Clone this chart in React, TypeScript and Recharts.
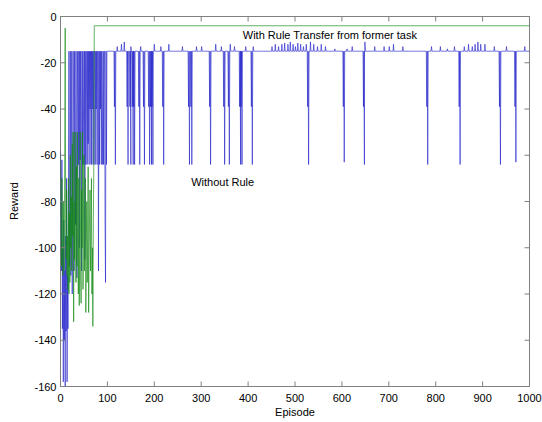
import { LineChart, Line, XAxis, YAxis, ReferenceArea, ReferenceDot, Customized } from "recharts";

// plot box in page pixels (matlab style figure)
const W = 542;
const H = 422;
const LEFT = 60.5;
const RIGHT = 529.5;
const TOP = 16.5;
const BOTTOM = 386.5;

const FONT = "'Liberation Sans', Arial, sans-serif";
const BOX = "#808080";

const xTicks = [0, 100, 200, 300, 400, 500, 600, 700, 800, 900, 1000];
const yTicks = [0, -20, -40, -60, -80, -100, -120, -140, -160];

// blue "Without Rule", one value per episode for episodes 0..100
const blueEarly = [
  -58, -85, -110, -62, -135, -100, -158, -88, -140, -110,
  -160, -95, -136, -70, -158, -112, -135, -64, -15, -108,
  -88, -15, -112, -64, -15, -120, -64, -15, -40, -110,
  -15, -64, -90, -15, -64, -113, -15, -40, -64, -15,
  -100, -15, -62, -15, -40, -110, -15, -64, -15, -40,
  -64, -15, -105, -15, -64, -40, -15, -64, -15, -55,
  -15, -64, -15, -40, -15, -64, -15, -64, -15, -40,
  -15, -64, -15, -15, -64, -15, -40, -15, -64, -15,
  -15, -110, -15, -64, -15, -40, -15, -64, -15, -39,
  -64, -15, -64, -15, -15, -89, -115, -15, -64, -15,
  -15,
];

// later dips below the -15 plateau: [episode, shallow, deep]
const blueDips: [number, number, number][] = [
  [115, -39, -64], [142, -39, -64], [148, -39, -64], [153, -39, -64],
  [156, -39, -64], [167, -39, -64], [177, -39, -64], [188, -39, -64],
  [192, -39, -64], [195, -39, -64], [218, -39, -64], [273, -39, -64],
  [278, -39, -64], [318, -39, -64], [348, -39, -64], [358, -39, -64],
  [382, -39, -64], [385, -39, -64], [407, -39, -64], [527, -39, -64],
  [603, -39, -63], [646, -39, -64], [781, -39, -64], [850, -39, -64],
  [936, -39, -64], [969, -39, -63],
];

// small bumps above the plateau: [episode, value]
const blueBumps: [number, number][] = [
  [121, -13], [130, -12], [136, -11], [150, -13], [171, -13], [200, -12],
  [214, -13], [231, -12], [260, -13], [290, -13], [301, -13], [331, -12],
  [343, -13], [362, -12], [371, -13], [395, -13], [411, -13], [451, -13],
  [458, -12], [465, -13], [472, -12], [478, -11.5], [485, -12], [490, -11],
  [496, -12], [501, -13], [506, -11.5], [512, -12], [518, -13], [524, -12],
  [533, -11], [540, -12], [548, -13], [556, -12], [565, -13], [585, -14],
  [611, -14], [622, -13], [649, -11], [670, -13], [690, -13], [701, -13],
  [710, -12], [730, -13], [791, -13], [810, -13], [825, -14], [840, -13],
  [861, -13], [870, -12], [878, -13], [884, -12], [890, -11], [896, -12],
  [905, -12], [925, -13], [951, -13], [990, -13],
];
const BLUE_PLATEAU = -15;

// green "With Rule Transfer", episodes 0..72, then flat
const greenEarly = [
  -60, -85, -108, -70, -95, -112, -80, -100, -110, -60,
  -5, -88, -105, -75, -112, -95, -118, -70, -120, -85,
  -115, -60, -100, -78, -110, -55, -95, -50, -132, -80,
  -105, -50, -90, -115, -65, -108, -50, -95, -120, -70,
  -125, -88, -50, -112, -124, -75, -100, -50, -118, -85,
  -60, -110, -92, -70, -128, -100, -80, -115, -95, -65,
  -128, -105, -85, -75, -110, -92, -70, -120, -100, -134,
  -90, -65, -4,
];
const GREEN_PLATEAU = -4;

type Pt = { x: number; y: number };

function buildBlue(): Pt[] {
  const pts: Pt[] = blueEarly.map((y, i) => ({ x: i, y }));
  const later: Pt[] = [];
  blueDips.forEach(([ep, a, b]) => {
    later.push({ x: ep - 1, y: BLUE_PLATEAU }, { x: ep, y: a }, { x: ep + 1, y: BLUE_PLATEAU }, { x: ep + 2, y: b }, { x: ep + 3, y: BLUE_PLATEAU });
  });
  blueBumps.forEach(([ep, v]) => {
    later.push({ x: ep - 1, y: BLUE_PLATEAU }, { x: ep, y: v }, { x: ep + 1, y: BLUE_PLATEAU });
  });
  later.sort((p, q) => p.x - q.x);
  return [...pts, ...later, { x: 1000, y: BLUE_PLATEAU }];
}

const blueData = buildBlue();
const greenData: Pt[] = [...greenEarly.map((y, i) => ({ x: i, y })), { x: 1000, y: GREEN_PLATEAU }];

const XTick = (props: any) => {
  const { x, payload } = props;
  return (
    <g>
      <line x1={x} x2={x} y1={BOTTOM} y2={BOTTOM - 5} stroke={BOX} />
      <line x1={x} x2={x} y1={TOP} y2={TOP + 5} stroke={BOX} />
      <text x={x} y={BOTTOM + 15} textAnchor="middle" fontSize={11} fontFamily={FONT} fill="#000">
        {payload.value}
      </text>
    </g>
  );
};

const YTick = (props: any) => {
  const { y, payload } = props;
  return (
    <g>
      <line x1={LEFT} x2={LEFT + 5} y1={y} y2={y} stroke={BOX} />
      <line x1={RIGHT} x2={RIGHT - 5} y1={y} y2={y} stroke={BOX} />
      <text x={LEFT - 4} y={y + 4} textAnchor="end" fontSize={11} fontFamily={FONT} fill="#000">
        {payload.value}
      </text>
    </g>
  );
};

const AxisTitles = () => (
  <g fontFamily={FONT} fontSize={11} fill="#000">
    <text x={295} y={416} textAnchor="middle">Episode</text>
    <text x={18} y={201} textAnchor="middle" transform="rotate(-90 18 201)">Reward</text>
  </g>
);

export default function App() {
  return (
    <div style={{ position: "fixed", left: 0, top: 0, width: W, height: H, background: "#fff" }}>
      <LineChart
        width={W}
        height={H}
        margin={{ top: TOP, right: W - RIGHT, bottom: 0, left: 0 }}
      >
        <XAxis
          dataKey="x"
          type="number"
          domain={[0, 1000]}
          ticks={xTicks}
          height={H - BOTTOM}
          axisLine={false}
          tickLine={false}
          tick={XTick}
          interval={0}
          allowDataOverflow
        />
        <YAxis
          type="number"
          domain={[-160, 0]}
          ticks={yTicks}
          width={LEFT}
          axisLine={false}
          tickLine={false}
          tick={YTick}
          interval={0}
          allowDataOverflow
        />
        <Line
          data={blueData}
          dataKey="y"
          type="linear"
          stroke="#1a1ac8"
          strokeOpacity={0.6}
          strokeWidth={1}
          dot={false}
          isAnimationActive={false}
        />
        <Line
          data={greenData}
          dataKey="y"
          type="linear"
          stroke="#118811"
          strokeOpacity={0.65}
          strokeWidth={1}
          dot={false}
          isAnimationActive={false}
        />
        <ReferenceArea x1={0} x2={1000} y1={-160} y2={0} fill="none" stroke={BOX} strokeWidth={1} />
        <ReferenceDot
          x={378}
          y={-8}
          r={0}
          label={{ value: "With Rule Transfer from former task", position: "right", fontSize: 11, fontFamily: FONT, fill: "#000" }}
        />
        <ReferenceDot
          x={268}
          y={-71.5}
          r={0}
          label={{ value: "Without Rule", position: "right", fontSize: 11, fontFamily: FONT, fill: "#000" }}
        />
        <Customized component={AxisTitles} />
      </LineChart>
    </div>
  );
}
